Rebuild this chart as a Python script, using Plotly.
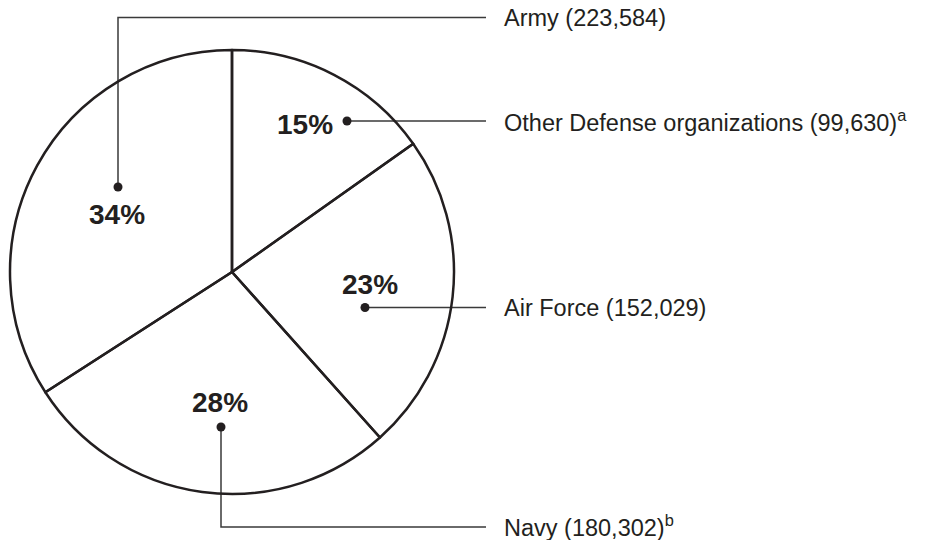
import plotly.graph_objects as go

# ---- data ----
categories = ["Other Defense organizations", "Air Force", "Navy", "Army"]
personnel = [99630, 152029, 180302, 223584]
footnotes = ["a", "", "b", ""]

total = sum(personnel)
percent_labels = [f"{round(v / total * 100)}%" for v in personnel]
side_labels = [
    f"{c} ({v:,})" + (f"<sup>{f}</sup>" if f else "")
    for c, v, f in zip(categories, personnel, footnotes)
]

# ---- layout (window pixels, y from top) ----
W, H = 926, 540
CX, CY, R = 232, 272, 222
LINE_END_X = 486
LABEL_X = 503
callout = {
    "Other Defense organizations": dict(dot=(347, 121), elbow=None, ly=121, ty=121, pct=(305, 124)),
    "Air Force": dict(dot=(365, 307.5), elbow=None, ly=307.5, ty=307.5, pct=(370, 284)),
    "Navy": dict(dot=(221, 427), elbow=(221, 527), ly=527, ty=525.5, pct=(220, 402)),
    "Army": dict(dot=(118, 187), elbow=(118, 17.5), ly=17.5, ty=17.5, pct=(117, 214)),
}

INK = "#231f20"
FONT = "Liberation Sans, Arial, Helvetica, sans-serif"

fig = go.Figure()

fig.add_trace(go.Pie(
    labels=categories,
    values=personnel,
    sort=False,
    direction="clockwise",
    rotation=0,
    textinfo="none",
    hoverinfo="skip",
    showlegend=False,
    marker=dict(colors=["rgba(0,0,0,0)"] * len(categories),
                line=dict(color=INK, width=2.5)),
    domain=dict(x=[(CX - R) / W, (CX + R) / W],
                y=[(H - CY - R) / H, (H - CY + R) / H]),
))

annotations = []
for cat, pct, lab in zip(categories, percent_labels, side_labels):
    c = callout[cat]
    pts = [c["dot"]] + ([c["elbow"]] if c["elbow"] else []) + [(LINE_END_X, c["ly"])]
    xs = [p[0] for p in pts]
    ys = [p[1] for p in pts]
    fig.add_trace(go.Scatter(x=xs, y=ys, mode="lines",
                             line=dict(color="#3a3a3a", width=1.5),
                             hoverinfo="skip", showlegend=False))
    fig.add_trace(go.Scatter(x=[xs[0]], y=[ys[0]], mode="markers",
                             marker=dict(color=INK, size=9),
                             hoverinfo="skip", showlegend=False))
    annotations.append(dict(x=c["pct"][0], y=c["pct"][1],
                            xref="x", yref="y",
                            text=f"<b>{pct}</b>", showarrow=False,
                            xanchor="center", yanchor="middle",
                            font=dict(family=FONT, size=28, color=INK)))
    annotations.append(dict(x=LABEL_X, y=c["ty"],
                            xref="x", yref="y",
                            text=lab, showarrow=False, borderpad=0,
                            xanchor="left", yanchor="middle",
                            font=dict(family=FONT, size=23.5, color=INK)))

fig.update_layout(
    width=W, height=H, autosize=False,
    margin=dict(l=0, r=0, t=0, b=0),
    paper_bgcolor="white", plot_bgcolor="rgba(0,0,0,0)",
    xaxis=dict(range=[0, W], visible=False, fixedrange=True, domain=[0, 1]),
    yaxis=dict(range=[H, 0], visible=False, fixedrange=True, domain=[0, 1]),
    annotations=annotations,
    showlegend=False,
)

# remove the browser's default 8px page margin so the figure fills the window
fig.write_html(
    "out.html",
    config={"displayModeBar": False, "staticPlot": True},
    post_script="document.body.style.margin='0px';"
                "document.body.style.overflow='hidden';",
)
